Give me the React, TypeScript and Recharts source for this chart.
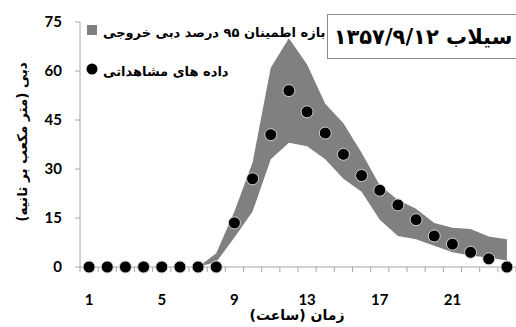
import { Area, ComposedChart, Line, XAxis, YAxis } from "recharts";

// hourly flood hydrograph: observed discharge and the 95% band of simulated outflow
const hours = [1, 2, 3, 4, 5, 6, 7, 8, 9, 10, 11, 12, 13, 14, 15, 16, 17, 18, 19, 20, 21, 22, 23, 24];
const observed = [0, 0, 0, 0, 0, 0, 0, 0, 13.5, 27, 40.5, 54, 47.5, 41, 34.5, 28, 23.5, 19, 14.5, 9.5, 7, 4.5, 2.5, 0];
const bandLow = [null, null, null, null, null, null, 0, 1.5, 9, 17, 33, 38, 37, 33, 27, 23, 14.5, 9.5, 8.5, 6.5, 4.5, 3.5, 2.8, 2];
const bandHigh = [null, null, null, null, null, null, 0, 4.2, 17, 32, 61, 70, 62, 50, 44, 35, 25, 20.5, 17.8, 13.5, 12, 11.6, 9.3, 8.5];

const xLabels = [1, 5, 9, 13, 17, 21];
const yTicks = [0, 15, 30, 45, 60, 75];

const axisGray = "#a6a6a6";
const bandGray = "#808080";
const numFont = "Lato, 'Open Sans', sans-serif";
const faFont = "'DejaVu Sans', 'Noto Sans', sans-serif";

// tick marks sit between hours, labels on every 4th hour
const boundaries = hours.map((h) => h - 0.5).concat(hours[hours.length - 1] + 0.5);

function HourTick(props: any) {
  const { x, y, payload } = props;
  const v = payload.value;
  if (Number.isInteger(v)) {
    return (
      <text x={x} y={y + 38} textAnchor="middle" fill="#000" fontSize={15} fontWeight={700} fontFamily={numFont}>
        {v}
      </text>
    );
  }
  return <line x1={x} x2={x} y1={y} y2={y + 5} stroke={axisGray} />;
}

export default function App() {
  const data = hours.map((h, i) => ({
    hour: h,
    obs: observed[i],
    band: bandLow[i] == null ? null : [bandLow[i], bandHigh[i]],
  }));

  return (
    <div style={{ position: "relative", width: 516, height: 327, background: "#fff" }}>
      <style>{"body{margin:0}"}</style>
      <ComposedChart width={516} height={327} data={data} margin={{ top: 22, right: 0, bottom: 0, left: 0 }}>
        <XAxis
          dataKey="hour"
          type="number"
          domain={[0.5, 24.5]}
          ticks={[...boundaries, ...xLabels]}
          interval={0}
          tickSize={0}
          tickMargin={0}
          tickLine={false}
          stroke={axisGray}
          height={60}
          tick={HourTick}
        />
        <YAxis
          domain={[0, 75]}
          ticks={yTicks}
          interval={0}
          width={80}
          tickSize={5}
          tickMargin={13}
          stroke={axisGray}
          tick={{ fill: "#000", fontSize: 15, fontWeight: 700, fontFamily: numFont }}
        />
        <Area dataKey="band" fill={bandGray} fillOpacity={1} stroke="none" isAnimationActive={false} />
        <Line
          dataKey="obs"
          stroke="none"
          dot={{ r: 6, fill: "#000", stroke: "#d0d0d0", strokeWidth: 1 }}
          activeDot={false}
          isAnimationActive={false}
        />
      </ComposedChart>

      <svg width={516} height={327} style={{ position: "absolute", left: 0, top: 0, pointerEvents: "none" }}>
        <g fontFamily={faFont} fontWeight={700} fill="#000">
          <text transform="translate(22,142) rotate(-90)" textAnchor="middle" dominantBaseline="central" direction="rtl" fontSize={13.5}>
            دبی (متر مکعب بر ثانیه)
          </text>
          <text x={297} y={320} textAnchor="middle" direction="rtl" fontSize={14}>
            زمان (ساعت)
          </text>

          <rect x={87} y={25} width={10} height={10} fill={bandGray} />
          <text x={103} y={37} textAnchor="end" direction="rtl" fontSize={13}>
            بازه اطمینان ۹۵ درصد دبی خروجی
          </text>
          <circle cx={92} cy={69} r={5.5} fill="#000" />
          <text x={103} y={76} textAnchor="end" direction="rtl" fontSize={13}>
            داده های مشاهداتی
          </text>

          <rect x={327.5} y={14.5} width={200} height={44} fill="#fff" stroke="#8c8c8c" />
          <text x={423} y={44} textAnchor="middle" direction="rtl" fontSize={21}>
            سیلاب ۱۳۵۷/۹/۱۲
          </text>
        </g>
      </svg>
    </div>
  );
}
